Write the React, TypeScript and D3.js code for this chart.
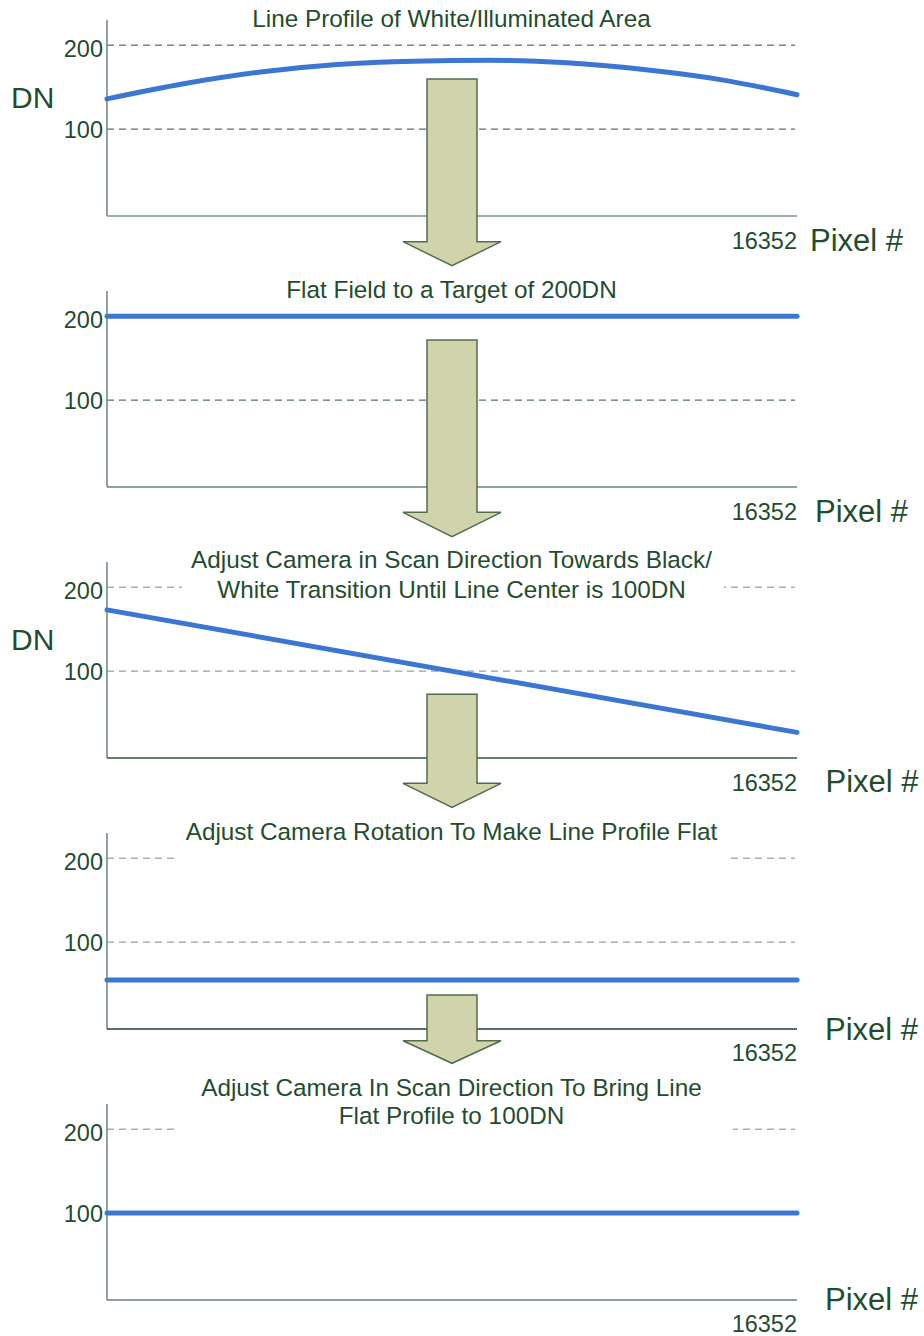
import React, { useEffect, useRef } from 'react';
import * as d3 from 'd3';

// pixel range of the sensor line
const X_MAX = 16352;
const yTicks = [100, 200];

// one DN profile per step (evenly spaced along the line)
const profileWhite = [136, 154, 168, 177, 181, 182, 179, 171, 159, 141];
const profileFlat = [200, 200];
const profileShifted = [173, 27];
const profileRotated = [55, 55];
const profileFinal = [100, 100];

const titles = [
  ['Line Profile of White/Illuminated Area'],
  ['Flat Field to a Target of 200DN'],
  ['Adjust Camera in Scan Direction Towards Black/', 'White Transition Until Line Center is 100DN'],
  ['Adjust Camera Rotation To Make Line Profile Flat'],
  ['Adjust Camera In Scan Direction To Bring Line', 'Flat Profile to 100DN'],
];
const showDN = [true, false, true, false, false];

const profiles = [profileWhite, profileFlat, profileShifted, profileRotated, profileFinal];

// layout bits for each panel (pixels, relative to panel top / axis bottom)
const panelLayout = [
  { titleY: 7, lineGap: 0, box: null, pixelX: 810, pixelDy: 34.5, numDy: 33, axisColor: '#7b9481', gridColor: '#2f5138',
    arrow: { top: 59, head: 221.7, tip: 245.7 } },
  { titleY: 7, lineGap: 0, box: null, pixelX: 815, pixelDy: 34.5, numDy: 33, axisColor: '#6b8672', gridColor: '#2f5138',
    arrow: { top: 49, head: 221.3, tip: 245.7 } },
  { titleY: 6.3, lineGap: 30, box: [182, 724], pixelX: 825.5, pixelDy: 34.3, numDy: 32.7, axisColor: '#2f5a3a', gridColor: '#7a8d7e',
    arrow: { top: 132.3, head: 221.3, tip: 245.3 } },
  { titleY: 7, lineGap: 0, box: [175, 731], pixelX: 825, pixelDy: 11, numDy: 31.7, axisColor: '#1f4428', gridColor: '#7a8d7e',
    arrow: { top: 162, head: 207.7, tip: 230.3 } },
  { titleY: -8.5, lineGap: 28.3, box: [175, 733], pixelX: 825, pixelDy: 9.5, numDy: 31.7, axisColor: '#6b8672', gridColor: '#7a8d7e',
    arrow: null },
];

const W = 924;
const H = 1336;
const LEFT = 107;
const RIGHT = 797;
const PLOT_H = 196;
const FIRST_TOP = 20;
const STEP = 271;
const TEXT = '#1f4d2e';
const BLUE = '#3a76d2';
const FONT = '"Liberation Sans", Arial, sans-serif';

export default function App() {
  const ref = useRef<SVGSVGElement>(null);

  useEffect(() => {
    const svg = d3.select(ref.current);
    svg.selectAll('*').remove();

    const x = d3.scaleLinear().domain([0, X_MAX]).range([LEFT, RIGHT]);

    const arrowLayer: { top: number; head: number; tip: number }[] = [];

    profiles.forEach((values, i) => {
      const top = FIRST_TOP + i * STEP;
      const bottom = top + PLOT_H;
      const lay = panelLayout[i];
      const y = d3.scaleLinear().domain([-3.5, 230]).range([bottom, top]);
      const g = svg.append('g').attr('class', 'panel');

      // dashed grid
      g.selectAll('.grid')
        .data(yTicks)
        .join('line')
        .attr('class', 'grid')
        .attr('x1', LEFT)
        .attr('x2', RIGHT - 2)
        .attr('y1', (d) => y(d))
        .attr('y2', (d) => y(d))
        .attr('stroke', lay.gridColor)
        .attr('stroke-width', 1)
        .attr('stroke-dasharray', '7,5');

      // title box hides the grid behind the text
      if (lay.box) {
        g.append('rect')
          .attr('x', lay.box[0])
          .attr('y', top - 30)
          .attr('width', lay.box[1] - lay.box[0])
          .attr('height', 60)
          .attr('fill', '#fff');
      }

      // axes
      g.append('line')
        .attr('x1', LEFT).attr('x2', LEFT)
        .attr('y1', top).attr('y2', bottom)
        .attr('stroke', '#6b8672').attr('stroke-width', 1.5);
      g.append('line')
        .attr('x1', LEFT).attr('x2', RIGHT)
        .attr('y1', bottom).attr('y2', bottom)
        .attr('stroke', lay.axisColor).attr('stroke-width', 1.5);

      // tick labels
      g.selectAll('.tick')
        .data(yTicks)
        .join('text')
        .attr('class', 'tick')
        .attr('x', LEFT - 4)
        .attr('y', (d) => y(d) + (d === 200 ? 3.5 : 0.5))
        .attr('dominant-baseline', 'central')
        .attr('text-anchor', 'end')
        .attr('font-size', 23.5)
        .attr('font-family', FONT)
        .attr('fill', TEXT)
        .text((d) => d);

      // profile
      const n = values.length;
      const line = d3.line<number>()
        .x((_, j) => x((j * X_MAX) / (n - 1)))
        .y((d) => y(d))
        .curve(d3.curveMonotoneX);
      g.append('path')
        .attr('d', line(values))
        .attr('fill', 'none')
        .attr('stroke', BLUE)
        .attr('stroke-width', 5)
        .attr('stroke-linecap', 'round')
        .attr('stroke-linejoin', 'round');

      // title
      g.selectAll('.title')
        .data(titles[i])
        .join('text')
        .attr('class', 'title')
        .attr('x', (RIGHT + LEFT) / 2 - 0.5)
        .attr('y', (_, k) => top + lay.titleY + k * lay.lineGap)
        .attr('text-anchor', 'middle')
        .attr('font-size', 24.3)
        .attr('font-family', FONT)
        .attr('fill', TEXT)
        .text((d) => d);

      if (showDN[i]) {
        g.append('text')
          .attr('x', 11)
          .attr('y', top + 88)
          .attr('font-size', 30)
          .attr('font-family', FONT)
          .attr('fill', TEXT)
          .text('DN');
      }

      g.append('text')
        .attr('x', x(X_MAX))
        .attr('y', bottom + lay.numDy)
        .attr('text-anchor', 'end')
        .attr('font-size', 23.5)
        .attr('font-family', FONT)
        .attr('fill', TEXT)
        .text(X_MAX);

      g.append('text')
        .attr('x', lay.pixelX)
        .attr('y', bottom + lay.pixelDy)
        .attr('font-size', 31)
        .attr('font-family', FONT)
        .attr('fill', TEXT)
        .text('Pixel #');

      if (lay.arrow) {
        arrowLayer.push({
          top: top + lay.arrow.top,
          head: top + lay.arrow.head,
          tip: top + lay.arrow.tip,
        });
      }
    });

    // step arrows on top of everything
    const cx = x(X_MAX / 2);
    svg.selectAll('.arrow')
      .data(arrowLayer)
      .join('path')
      .attr('class', 'arrow')
      .attr('d', (a) => {
        const p = d3.path();
        p.moveTo(cx - 25, a.top);
        p.lineTo(cx + 25, a.top);
        p.lineTo(cx + 25, a.head);
        p.lineTo(cx + 49, a.head);
        p.lineTo(cx, a.tip);
        p.lineTo(cx - 49, a.head);
        p.lineTo(cx - 25, a.head);
        p.closePath();
        return p.toString();
      })
      .attr('fill', '#d1d3ab')
      .attr('stroke', '#4f6e50')
      .attr('stroke-width', 1.5)
      .attr('stroke-linejoin', 'miter');
  }, []);

  return (
    <svg
      ref={ref}
      width={W}
      height={H}
      style={{ position: 'absolute', left: 0, top: 0, background: '#fff' }}
    />
  );
}
